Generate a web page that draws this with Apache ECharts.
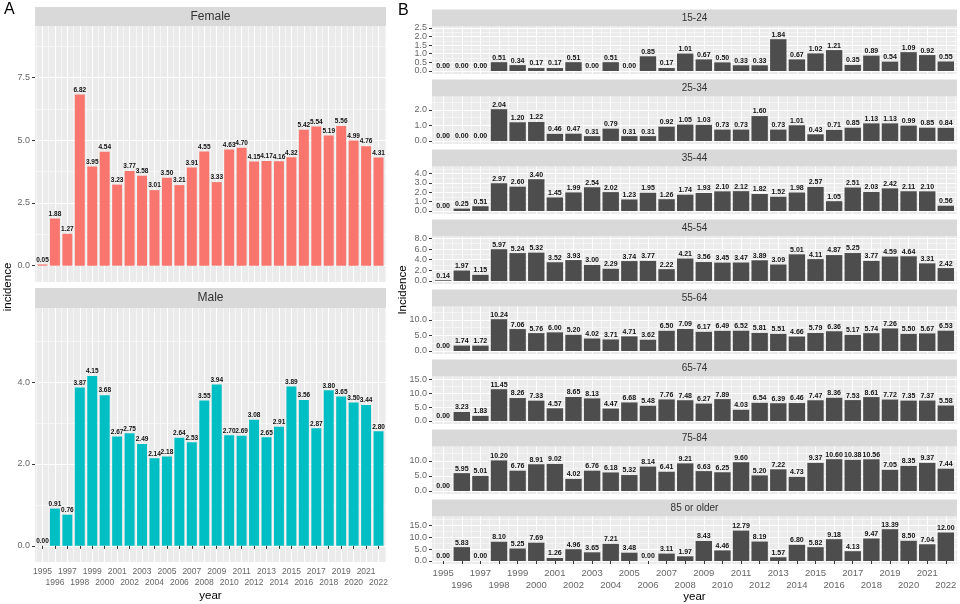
<!DOCTYPE html>
<html>
<head>
<meta charset="utf-8">
<script src="https://cdn.jsdelivr.net/npm/echarts@6/dist/echarts.min.js"></script>
<style>
  html, body { margin: 0; padding: 0; background: #fff; }
  #main { width: 960px; height: 604px; }
</style>
</head>
<body>
<div id="main"></div>
<script>
// data
const years = [1995, 1996, 1997, 1998, 1999, 2000, 2001, 2002, 2003, 2004, 2005, 2006, 2007, 2008,
  2009, 2010, 2011, 2012, 2013, 2014, 2015, 2016, 2017, 2018, 2019, 2020, 2021, 2022]

const female = [0.05, 1.88, 1.27, 6.82, 3.95, 4.54, 3.23, 3.77, 3.58, 3.01, 3.50, 3.21, 3.91, 4.55,
  3.33, 4.63, 4.70, 4.15, 4.17, 4.16, 4.32, 5.42, 5.54, 5.19, 5.56, 4.99, 4.76, 4.31]
const male = [0.00, 0.91, 0.76, 3.87, 4.15, 3.68, 2.67, 2.75, 2.49, 2.14, 2.18, 2.64, 2.53, 3.55,
  3.94, 2.70, 2.69, 3.08, 2.65, 2.91, 3.89, 3.56, 2.87, 3.80, 3.65, 3.50, 3.44, 2.80]

const age15_24 = [0.00, 0.00, 0.00, 0.51, 0.34, 0.17, 0.17, 0.51, 0.00, 0.51, 0.00, 0.85, 0.17, 1.01,
  0.67, 0.50, 0.33, 0.33, 1.84, 0.67, 1.02, 1.21, 0.35, 0.89, 0.54, 1.09, 0.92, 0.55]
const age25_34 = [0.00, 0.00, 0.00, 2.04, 1.20, 1.22, 0.46, 0.47, 0.31, 0.79, 0.31, 0.31, 0.92, 1.05,
  1.03, 0.73, 0.73, 1.60, 0.73, 1.01, 0.43, 0.71, 0.85, 1.13, 1.13, 0.99, 0.85, 0.84]
const age35_44 = [0.00, 0.25, 0.51, 2.97, 2.60, 3.40, 1.45, 1.99, 2.54, 2.02, 1.23, 1.95, 1.26, 1.74,
  1.93, 2.10, 2.12, 1.82, 1.52, 1.98, 2.57, 1.05, 2.51, 2.03, 2.42, 2.11, 2.10, 0.56]
const age45_54 = [0.14, 1.97, 1.15, 5.97, 5.24, 5.32, 3.52, 3.93, 3.00, 2.29, 3.74, 3.77, 2.22, 4.21,
  3.56, 3.45, 3.47, 3.89, 3.09, 5.01, 4.11, 4.87, 5.25, 3.77, 4.59, 4.64, 3.31, 2.42]
const age55_64 = [0.00, 1.74, 1.72, 10.24, 7.06, 5.76, 6.00, 5.20, 4.02, 3.71, 4.71, 3.62, 6.50, 7.09,
  6.17, 6.49, 6.52, 5.81, 5.51, 4.66, 5.79, 6.36, 5.17, 5.74, 7.26, 5.50, 5.67, 6.53]
const age65_74 = [0.00, 3.23, 1.83, 11.45, 8.26, 7.33, 4.57, 8.65, 8.13, 4.47, 6.68, 5.48, 7.76, 7.48,
  6.27, 7.89, 4.03, 6.54, 6.39, 6.46, 7.47, 8.36, 7.53, 8.61, 7.72, 7.35, 7.37, 5.58]
const age75_84 = [0.00, 5.95, 5.01, 10.20, 6.76, 8.91, 9.02, 4.02, 6.76, 6.18, 5.32, 8.14, 6.41, 9.21,
  6.63, 6.25, 9.60, 5.20, 7.22, 4.73, 9.37, 10.60, 10.38, 10.56, 7.05, 8.35, 9.37, 7.44]
const age85plus = [0.00, 5.83, 0.00, 8.10, 5.25, 7.69, 1.26, 4.96, 3.65, 7.21, 3.48, 0.00, 3.11, 1.97,
  8.43, 4.46, 12.79, 8.19, 1.57, 6.80, 5.82, 9.18, 4.13, 9.47, 13.39, 8.50, 7.04, 12.00]

// y tick labels per panel
const femaleTicks = [0, 2.5, 5, 7.5]
const maleTicks = [0, 2, 4]
const ticks15_24 = [0, 0.5, 1, 1.5, 2, 2.5]
const ticks25_34 = [0, 1, 2]
const ticks35_44 = [0, 1, 2, 3, 4]
const ticks45_54 = [0, 2, 4, 6, 8]
const ticks55_64 = [0, 5, 10]
const ticks65_74 = [0, 5, 10, 15]
const ticks75_84 = [0, 5, 10]
const ticks85plus = [0, 5, 10, 15]

const groupNames = ['15-24', '25-34', '35-44', '45-54', '55-64', '65-74', '75-84', '85 or older']
const groupValues = [age15_24, age25_34, age35_44, age45_54, age55_64, age65_74, age75_84, age85plus]
const groupTicks = [ticks15_24, ticks25_34, ticks35_44, ticks45_54, ticks55_64, ticks65_74, ticks75_84, ticks85plus]

// layout
const FONT = '"Liberation Sans", Arial, sans-serif'
const panels = [
  { name: 'Female', values: female, ticks: femaleTicks, color: '#F8766D',
    x: 35, y: 26, w: 351, h: 256, stripY: 7, stripH: 19, stripFont: 12,
    showX: false, barFrac: 0.8, labelFont: 6.5, xFont: 8.5, rowGap: 11 },
  { name: 'Male', values: male, ticks: maleTicks, color: '#00BFC4',
    x: 35, y: 308, w: 351, h: 254, stripY: 288, stripH: 20, stripFont: 12,
    showX: true, barFrac: 0.8, labelFont: 6.5, xFont: 8.5, rowGap: 11 }
]
groupNames.forEach((name, i) => {
  panels.push({ name, values: groupValues[i], ticks: groupTicks[i], color: '#4D4D4D',
    x: 432, y: 26.5 + 70 * i, w: 525, h: 47.5, stripY: 9.5 + 70 * i, stripH: 17, stripFont: 10,
    showX: i === groupNames.length - 1, barFrac: 0.88, labelFont: 7, xFont: 9.5, rowGap: 12 })
})

const oddYears = years.filter(y => y % 2 === 1)
const evenYears = years.filter(y => y % 2 === 0)
const halfYears = years.map(y => y - 0.5).concat([years[years.length - 1] + 0.5])
const xMin = years[0] - 0.6
const xMax = years[years.length - 1] + 0.6

const grid = []
const xAxis = []
const yAxis = []
const series = []
const graphic = []

panels.forEach((p, i) => {
  const top = Math.max(...p.values) * 1.4
  const bottom = -0.068 * top
  const step = p.ticks[1] - p.ticks[0]
  const minors = p.ticks.map(t => t + step / 2).filter(v => v < top)
  const unit = p.w / (xMax - xMin)
  const xLabel = (values, margin) => ({
    show: p.showX, customValues: values, margin, fontSize: p.xFont, lineHeight: p.xFont,
    color: '#666', fontFamily: FONT, hideOverlap: false, showMinLabel: true, showMaxLabel: true,
    formatter: v => String(v)
  })
  const yLabel = values => ({
    show: true, customValues: values, margin: 5, fontSize: 9, color: '#666',
    fontFamily: FONT, hideOverlap: false, showMinLabel: true, showMaxLabel: true,
    formatter: v => v.toFixed(1)
  })

  grid.push({ left: p.x, top: p.y, width: p.w, height: p.h, show: true,
    backgroundColor: '#EBEBEB', borderWidth: 0 })

  // major x: ticks, odd-year labels on first row
  xAxis.push({
    type: 'value', gridIndex: i, position: 'bottom', min: xMin, max: xMax,
    axisLine: { show: false },
    axisTick: { show: p.showX, customValues: years, length: 3, lineStyle: { color: '#333', width: 1 } },
    axisLabel: xLabel(oddYears, 5),
    splitLine: { show: true, lineStyle: { color: '#fff', width: 1 } }
  })
  // minor x: half-year gridlines, even-year labels on second row
  xAxis.push({
    type: 'value', gridIndex: i, position: 'bottom', min: xMin, max: xMax,
    axisLine: { show: false },
    axisTick: { show: false, customValues: halfYears },
    axisLabel: xLabel(evenYears, 5 + p.rowGap),
    splitLine: { show: true, lineStyle: { color: '#fff', width: 0.5 } }
  })
  // major y: ticks, labels at every other tick
  yAxis.push({
    type: 'value', gridIndex: i, position: 'left', min: bottom, max: top,
    axisLine: { show: false },
    axisTick: { show: true, customValues: p.ticks, length: 3, lineStyle: { color: '#333', width: 1 } },
    axisLabel: yLabel(p.ticks.filter((t, k) => k % 2 === 0)),
    splitLine: { show: true, lineStyle: { color: '#fff', width: 1 } }
  })
  // minor y: half-step gridlines, the remaining labels
  yAxis.push({
    type: 'value', gridIndex: i, position: 'left', min: bottom, max: top,
    axisLine: { show: false },
    axisTick: { show: false, customValues: minors },
    axisLabel: yLabel(p.ticks.filter((t, k) => k % 2 === 1)),
    splitLine: { show: true, lineStyle: { color: '#fff', width: 0.5 } }
  })

  series.push({
    type: 'bar',
    xAxisIndex: 2 * i,
    yAxisIndex: 2 * i,
    barWidth: unit * p.barFrac,
    itemStyle: { color: p.color },
    label: {
      show: true, position: 'top', distance: 1,
      fontSize: p.labelFont, fontWeight: 'bold', color: '#111', fontFamily: FONT,
      formatter: d => d.value[1].toFixed(2)
    },
    data: years.map((y, k) => [y, p.values[k]])
  })

  graphic.push({ type: 'rect', shape: { x: p.x, y: p.stripY, width: p.w, height: p.stripH },
    style: { fill: '#D9D9D9' }, silent: true })
  graphic.push({ type: 'text', x: p.x + p.w / 2, y: p.stripY + p.stripH / 2,
    style: { text: p.name, align: 'center', verticalAlign: 'middle', fontSize: p.stripFont,
      fill: '#333', fontFamily: FONT }, silent: true })
})

// panel letters and axis titles
graphic.push({ type: 'text', x: 4, y: 2, style: { text: 'A', fontSize: 16, fill: '#000', fontFamily: FONT } })
graphic.push({ type: 'text', x: 398, y: 3, style: { text: 'B', fontSize: 16, fill: '#000', fontFamily: FONT } })
graphic.push({ type: 'text', x: 210.5, y: 596, style: { text: 'year', align: 'center', verticalAlign: 'middle',
  fontSize: 11.5, fill: '#000', fontFamily: FONT } })
graphic.push({ type: 'text', x: 694.5, y: 597, style: { text: 'year', align: 'center', verticalAlign: 'middle',
  fontSize: 11.5, fill: '#000', fontFamily: FONT } })
graphic.push({ type: 'text', x: 8, y: 287, rotation: Math.PI / 2, style: { text: 'incidence', align: 'center',
  verticalAlign: 'middle', fontSize: 11.5, fill: '#000', fontFamily: FONT } })
graphic.push({ type: 'text', x: 403, y: 290, rotation: Math.PI / 2, style: { text: 'Incidence', align: 'center',
  verticalAlign: 'middle', fontSize: 11.5, fill: '#000', fontFamily: FONT } })

const chart = echarts.init(document.getElementById('main'))
chart.setOption({
  animation: false,
  backgroundColor: '#fff',
  grid,
  xAxis,
  yAxis,
  series,
  graphic
})
</script>
</body>
</html>
